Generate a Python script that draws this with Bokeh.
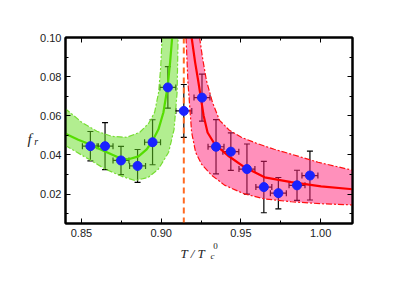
from bokeh.plotting import figure
from bokeh.models import (ColumnDataSource, Whisker, TeeHead, Span, Label, LinearAxis,
                          FixedTicker, PrintfTickFormatter, Range1d, CustomJSTickFormatter)
from bokeh.embed import file_html
from bokeh.resources import INLINE

# ---------------- data ----------------
T_below = [0.8556, 0.8648, 0.8748, 0.8852, 0.8946, 0.9042]
f_below = [0.0445, 0.0445, 0.0372, 0.0344, 0.0465, 0.0745]
ferr_below = [0.0075, 0.0120, 0.0072, 0.0084, 0.0115, 0.0106]

T_mid = [0.9142]
f_mid = [0.0625]
ferr_mid = [0.0135]

T_above = [0.9256, 0.9344, 0.9437, 0.9538, 0.9644, 0.9735, 0.9852, 0.9933]
f_above = [0.0693, 0.0442, 0.0417, 0.0328, 0.0236, 0.0205, 0.0245, 0.0295]
ferr_above = [0.0120, 0.0139, 0.0096, 0.0128, 0.0131, 0.0080, 0.0077, 0.0125]

T_err = 0.005
T_c = 0.9142

# fitted curve below T_c and its band
T_gfit = [0.840, 0.848, 0.8555, 0.8645, 0.8743, 0.8795, 0.8858, 0.8909, 0.8941, 0.8983, 0.9014, 0.9041, 0.9056, 0.9069]
f_gfit = [0.0508, 0.0478, 0.0454, 0.0419, 0.0383, 0.0378, 0.0393, 0.0429, 0.0465, 0.0531, 0.0617, 0.0753, 0.0873, 0.1000]
T_gup = [0.8397, 0.8503, 0.8597, 0.8691, 0.8784, 0.8866, 0.8922, 0.8959, 0.8984, 0.8997, 0.9006]
f_gup = [0.0638, 0.0566, 0.0521, 0.0495, 0.0490, 0.0516, 0.0562, 0.0618, 0.0720, 0.0847, 0.1000]
T_glo = [0.8399, 0.8545, 0.8649, 0.8753, 0.8836, 0.8920, 0.8983, 0.9047, 0.9081, 0.9100, 0.9106]
f_glo = [0.0448, 0.0379, 0.0328, 0.0291, 0.0269, 0.0286, 0.0328, 0.0414, 0.0531, 0.0720, 0.1000]

# fitted curve above T_c and its band
T_rfit = [0.9191, 0.9213, 0.9234, 0.9266, 0.9291, 0.9336, 0.9420, 0.9524, 0.9649, 0.9816, 1.0003, 1.0200]
f_rfit = [0.1000, 0.0873, 0.0770, 0.0602, 0.0515, 0.0455, 0.0396, 0.0337, 0.0286, 0.0261, 0.0240, 0.0225]
T_rup = [0.9241, 0.9259, 0.9284, 0.9322, 0.9366, 0.9428, 0.9503, 0.9597, 0.9709, 0.9816, 0.9984, 1.0200]
f_rup = [0.1000, 0.0898, 0.0780, 0.0668, 0.0577, 0.0526, 0.0490, 0.0460, 0.0429, 0.0404, 0.0363, 0.0322]
T_rlo = [0.9156, 0.9168, 0.9191, 0.9216, 0.9253, 0.9316, 0.9397, 0.9522, 0.9647, 0.9816, 1.0003, 1.0200]
f_rlo = [0.1000, 0.0770, 0.0516, 0.0414, 0.0353, 0.0297, 0.0246, 0.0201, 0.0176, 0.0161, 0.0151, 0.0145]

x_ticks = [0.85, 0.90, 0.95, 1.00]
x_minor = [0.875, 0.925, 0.975, 1.0]
y_ticks = [0.02, 0.04, 0.06, 0.08, 0.10]
y_minor = [0.01, 0.03, 0.05, 0.07, 0.09]

# ---------------- figure ----------------
p = figure(width=399, height=278, x_range=Range1d(0.84, 1.02), y_range=Range1d(0.005, 0.10),
           output_backend="svg", toolbar_location=None,
           min_border_left=65, min_border_right=47, min_border_top=37, min_border_bottom=55)
p.xgrid.visible = False
p.ygrid.visible = False
p.outline_line_color = "black"
p.outline_line_width = 2
p.background_fill_color = "white"
p.border_fill_color = "white"

def style_axis(ax, ticks, minor, labels=True):
    ax.ticker = FixedTicker(ticks=ticks, minor_ticks=minor)
    ax.axis_line_color = "black"
    ax.axis_line_width = 2
    ax.major_tick_in = 5
    ax.major_tick_out = 0
    ax.minor_tick_in = 3
    ax.minor_tick_out = 0
    ax.major_tick_line_color = "black"
    ax.minor_tick_line_color = "black"
    ax.major_tick_line_width = 1
    ax.minor_tick_line_width = 1
    if labels:
        ax.formatter = PrintfTickFormatter(format="%.2f")
        ax.major_label_text_font = "Liberation Sans"
        ax.major_label_text_font_size = "11px"
        ax.major_label_text_color = "#222222"
        ax.major_label_standoff = 5
    else:
        ax.formatter = CustomJSTickFormatter(code="return ''")
        ax.major_label_standoff = 0

style_axis(p.xaxis[0], x_ticks, x_minor)
style_axis(p.yaxis[0], y_ticks, y_minor)
p.yaxis[0].major_label_standoff = 4
top = LinearAxis()
right = LinearAxis()
style_axis(top, x_ticks, x_minor, labels=False)
style_axis(right, y_ticks, y_minor, labels=False)
p.add_layout(top, "above")
p.add_layout(right, "right")

# ---------------- error bars (under the bands) ----------------
def add_errbars(T, f, ferr):
    src = ColumnDataSource(dict(
        T=T, f=f,
        fu=[a + b for a, b in zip(f, ferr)], fl=[a - b for a, b in zip(f, ferr)],
        Tu=[t + T_err for t in T], Tl=[t - T_err for t in T]))
    for dim, base, up, lo in (("height", "T", "fu", "fl"), ("width", "f", "Tu", "Tl")):
        w = Whisker(source=src, base=base, upper=up, lower=lo, dimension=dim,
                    line_color="black", line_width=1.2, level="underlay",
                    upper_head=TeeHead(size=6, line_color="black", line_width=1.2),
                    lower_head=TeeHead(size=6, line_color="black", line_width=1.2))
        p.add_layout(w)
    return src

src_b = add_errbars(T_below, f_below, ferr_below)
src_m = add_errbars(T_mid, f_mid, ferr_mid)
src_a = add_errbars(T_above, f_above, ferr_above)

p.add_layout(Span(location=T_c, dimension="height", line_color="#ff6a22",
                  line_width=2, line_dash="6 4", level="underlay"))

# ---------------- bands ----------------
p.patch(T_gup + T_glo[::-1], f_gup + f_glo[::-1], fill_color="#66dd22", fill_alpha=0.5, line_alpha=0)
p.patch(T_rup + T_rlo[::-1], f_rup + f_rlo[::-1], fill_color="#ff2277", fill_alpha=0.5, line_alpha=0)
p.line(T_gup, f_gup, line_color="#77dd33", line_width=1.2, line_dash="6 2 2 2")
p.line(T_glo, f_glo, line_color="#77dd33", line_width=1.2, line_dash="6 2 2 2")
p.line(T_rup, f_rup, line_color="#ff1010", line_width=1.2, line_dash="6 2 2 2")
p.line(T_rlo, f_rlo, line_color="#ff1010", line_width=1.2, line_dash="6 2 2 2")

# ---------------- fits ----------------
p.line(T_gfit, f_gfit, line_color="#55dd00", line_width=2.2)
p.line(T_rfit, f_rfit, line_color="#ff0000", line_width=2.2)

# ---------------- points ----------------
for src in (src_b, src_m, src_a):
    p.scatter("T", "f", source=src, marker="circle", size=9, fill_color="#1a22ff", line_color="#1a22ff")

# ---------------- axis titles (side panels, so they are not clipped) ----------------
serif = "Liberation Serif"
def lab(side, x, y, text, size, italic=True):
    p.add_layout(Label(x=x, y=y, text=text, text_font=serif,
                       text_font_style="italic" if italic else "normal",
                       text_font_size=size, text_color="#222222",
                       text_baseline="alphabetic", text_align="left"), side)

lab("left", 0.8162, 0.0484, "f", "15px")
lab("left", 0.8204, 0.0468, "r", "10px")
lab("below", 0.9121, -0.0103, "T / T", "13px")
lab("left", 0.9309, -0.0115, "c", "9px")
lab("left", 0.9326, -0.0063, "0", "9px", italic=False)

open("out.html", "w").write(file_html(p, INLINE))
